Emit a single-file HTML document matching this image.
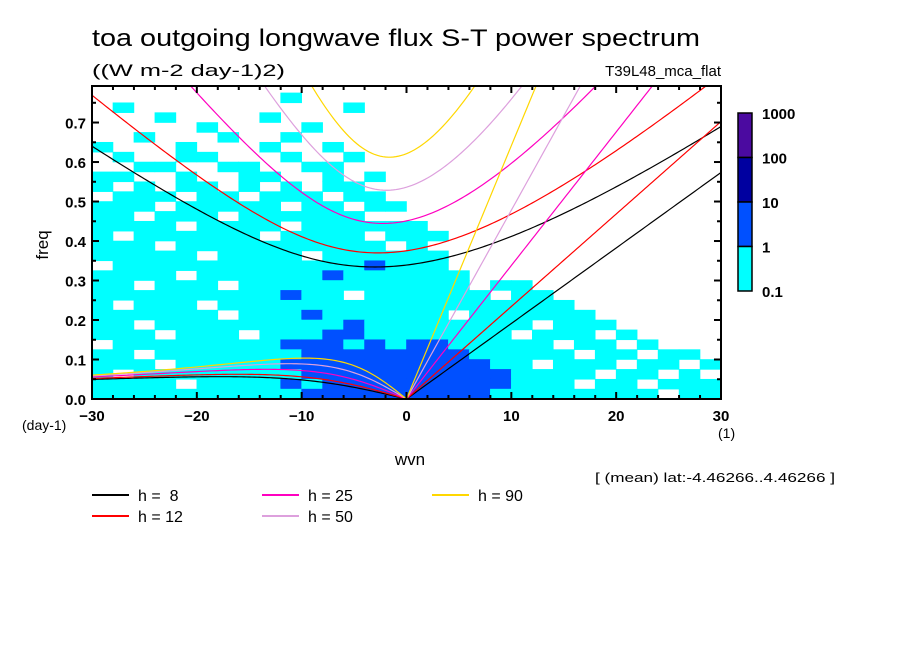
<!DOCTYPE html>
<html><head><meta charset="utf-8"><style>
body{margin:0;background:#fff;}
svg{display:block;font-family:"Liberation Sans",sans-serif;}
</style></head><body>
<svg id="chart" width="904" height="654" viewBox="0 0 904 654" xmlns="http://www.w3.org/2000/svg">
<defs><clipPath id="plotclip"><rect x="92" y="86" width="629" height="313"/></clipPath></defs>
<rect x="0" y="0" width="904" height="654" fill="#fff"/>
<text x="92" y="46" font-size="24" textLength="608" lengthAdjust="spacingAndGlyphs">toa outgoing longwave flux S-T power spectrum</text>
<text x="92" y="76" font-size="17" textLength="193" lengthAdjust="spacingAndGlyphs">((W m-2 day-1)2)</text>
<text x="721" y="76" font-size="15" text-anchor="end">T39L48_mca_flat</text>
<g id="field" clip-path="url(#plotclip)"></g>
<g id="curves" clip-path="url(#plotclip)"></g>
<g id="axes"></g>
<text x="0" y="0" font-size="17" text-anchor="middle" transform="translate(48,245) rotate(-90)">freq</text>
<text x="410" y="465" font-size="17" text-anchor="middle">wvn</text>
<text x="22" y="430" font-size="14">(day-1)</text>
<text x="718" y="438" font-size="14">(1)</text>
<text x="595" y="482" font-size="13" textLength="240" lengthAdjust="spacingAndGlyphs">[ (mean) lat:-4.46266..4.46266 ]</text>
<g id="legend"></g>
<g id="colorbar"></g>
</svg>
<script>
// ---- data ----
const depthsH = [8, 12, 25, 50, 90];
const depthColors = ["#000000", "#ff0000", "#ff00c0", "#dda0dd", "#ffd700"];
const xTicks = [-30, -20, -10, 0, 10, 20, 30];
const yTicks = [0.0, 0.1, 0.2, 0.3, 0.4, 0.5, 0.6, 0.7];
const cbLevels = ["1000", "100", "10", "1", "0.1"];
const cbColors = ["#4b0aa0", "#0000a0", "#0050ff", "#00ffff"];
const fieldColors = ["none", "#00ffff", "#0050ff"];
// power field levels, rows from freq 0.775-0.80 down to 0.00-0.025; columns wvn -30..30 step 2
const fieldRows = [
 "000000000000000000000000000000",
 "000000000100000000000000000000",
 "010000000000100000000000000000",
 "000100001000000000000000000000",
 "000001000010000000000000000000",
 "001000100100000000000000000000",
 "100010001001000000000000000000",
 "010011000100100000000000000000",
 "001100110011000000000000000000",
 "110010011001010000000000000000",
 "101011010101100000000000000000",
 "011101101110110000000000000000",
 "111011111011011000000000000000",
 "110111011111100000000000000000",
 "111101111011111100000000000000",
 "101111110111101110000000000000",
 "111011111111110100000000000000",
 "111110111101111110000000000000",
 "011111111111121110000000000000",
 "111101111112111111000000000000",
 "110111011111111111011000000000",
 "111111111211011111101100000000",
 "101110111111111111111110000000",
 "111111011121111110111111000000",
 "110111111111211111111011100000",
 "111011101112211111110111010000",
 "011111111222121221111101101000",
 "110111111122222222111110110110",
 "111011111222222222211011101101",
 "101111111122222222221111011010",
 "111101111212222222221110110111",
 "111111111122222222211111111011"
];
const fieldDk = 2, fieldDf = 0.025;

// ---- scales ----
const X0=92, X1=721, Y0=399, Y1=86;
const kMin=-30, kMax=30, fMin=0, fMax=0.7925;
const sx = k => X0 + (k-kMin)/(kMax-kMin)*(X1-X0);
const sy = f => Y0 - (f-fMin)/(fMax-fMin)*(Y0-Y1);
const NS="http://www.w3.org/2000/svg";
function mk(tag, attrs, parent){const e=document.createElementNS(NS,tag);for(const a in attrs)e.setAttribute(a,attrs[a]);parent.appendChild(e);return e;}

// field
const field=document.getElementById('field');
const nRows=fieldRows.length;
fieldRows.forEach((row,ri)=>{
  const fTop=(nRows-ri)*fieldDf;
  for(let ci=0;ci<row.length;ci++){
    const lv=+row[ci]; if(!lv) continue;
    const k0=kMin+ci*fieldDk;
    const r=mk('rect',{x:sx(k0)-0.3,y:sy(fTop)-0.3,width:sx(k0+fieldDk)-sx(k0)+0.6,height:sy(fTop-fieldDf)-sy(fTop)+0.6,fill:fieldColors[lv]},field);
    
    
  }
});

// dispersion curves
const g=9.81, a=6.371e6, Om=7.292e-5, beta=2*Om/a, cpd=86400/(2*Math.PI);
function solve(k,c,w0){let w=w0;for(let i=0;i<60;i++){const f=w*w*w-(c*c*k*k+3*beta*c)*w-beta*c*c*k;const d=3*w*w-(c*c*k*k+3*beta*c);if(Math.abs(d)<1e-30)break;const nw=w-f/d;if(Math.abs(nw-w)<1e-14){w=nw;break;}w=nw;}return w;}
const curves=document.getElementById('curves');
depthsH.forEach((h,hi)=>{
  const c=Math.sqrt(g*h);
  let ig=[],kel=[],ros=[];
  for(let s=kMin;s<=kMax+1e-9;s+=0.25){
    const k=s/a;
    const w=solve(k,c,Math.sqrt(c*c*k*k+3*beta*c)*1.2);
    ig.push(sx(s).toFixed(2)+','+sy(w*cpd).toFixed(2));
    if(s>=0) kel.push(sx(s).toFixed(2)+','+sy(c*k*cpd).toFixed(2));
    if(s<=0){const wr=s===0?0:-beta*k/(k*k+3*beta/c);ros.push(sx(s).toFixed(2)+','+sy(wr*cpd).toFixed(2));}
  }
  [['ig',ig],['kelvin',kel],['rossby',ros]].forEach(([nm,pts])=>{
    const p=mk('polyline',{points:pts.join(' '),fill:'none',stroke:depthColors[hi],'stroke-width':1.2},curves);
    
    
  });
});

// axes
const axes=document.getElementById('axes');
mk('rect',{x:X0,y:Y1,width:X1-X0,height:Y0-Y1,fill:'none',stroke:'#000','stroke-width':2},axes);
for(let k=kMin;k<=kMax;k+=2){
  const major=(k%10===0), L=major?7:4;
  mk('line',{x1:sx(k),y1:Y0,x2:sx(k),y2:Y0-L,stroke:'#000','stroke-width':2},axes);
  mk('line',{x1:sx(k),y1:Y1,x2:sx(k),y2:Y1+L,stroke:'#000','stroke-width':2},axes);
}
for(let i=0;i<=15;i++){
  const f=i*0.05, L=(i%2===0)?7:4;
  mk('line',{x1:X0,y1:sy(f),x2:X0+L,y2:sy(f),stroke:'#000','stroke-width':2},axes);
  mk('line',{x1:X1,y1:sy(f),x2:X1-L,y2:sy(f),stroke:'#000','stroke-width':2},axes);
}
xTicks.forEach(v=>{
  const t=mk('text',{x:sx(v),y:Y0+22,'font-size':15,'font-weight':'bold','text-anchor':'middle'},axes);
  t.textContent=(v<0?'\u2212'+(-v):''+v);
  
  
});
yTicks.forEach(v=>{
  const t=mk('text',{x:X0-6,y:sy(v)+6,'font-size':15,'font-weight':'bold','text-anchor':'end'},axes);
  t.textContent=v.toFixed(1);
  
  
});

// legend
const legend=document.getElementById('legend');
const legPos=[[92,495],[92,516],[262,495],[262,516],[432,495]];
const legTxt=["h =  8","h = 12","h = 25","h = 50","h = 90"];
depthsH.forEach((h,i)=>{
  const [lx,ly]=legPos[i];
  const l=mk('line',{x1:lx,y1:ly,x2:lx+37,y2:ly,stroke:depthColors[i],'stroke-width':2},legend);
  
  
  const t=mk('text',{x:lx+46,y:ly+6,'font-size':16},legend);
  t.setAttribute('style','white-space:pre');
  t.textContent=legTxt[i];
  
  
});

// colorbar
const cb=document.getElementById('colorbar');
const cbTop=113, cbBot=291, cbX=738, cbW=14, seg=(cbBot-cbTop)/cbColors.length;
cbColors.forEach((col,i)=>{
  const r=mk('rect',{x:cbX,y:cbTop+i*seg,width:cbW,height:seg,fill:col,stroke:'#000','stroke-width':1.5},cb);
  
  
});
cbLevels.forEach((lab,i)=>{
  const t=mk('text',{x:762,y:cbTop+i*seg+6,'font-size':15,'font-weight':'bold'},cb);
  t.textContent=lab;
  
  
});
</script>
</body></html>
